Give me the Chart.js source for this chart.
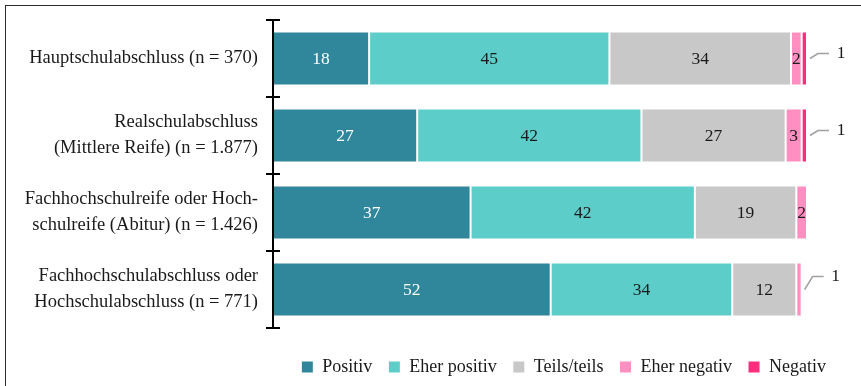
<!DOCTYPE html>
<html><head><meta charset="utf-8">
<script src="https://cdn.jsdelivr.net/npm/chart.js@4/dist/chart.umd.min.js"></script>
<style>
html,body{margin:0;padding:0;background:#fff;}
#wrap{position:relative;width:861px;height:386px;overflow:hidden;}
#frame{position:absolute;left:5px;top:5px;right:-5px;bottom:-5px;border-top:1.5px solid #2a2a2a;border-left:1.5px solid #2a2a2a;}
canvas{position:absolute;left:0;top:0;}
</style></head><body>
<div id="wrap"><div id="frame"></div><canvas id="c" width="861" height="386"></canvas></div>
<script>
const categories = [
  'Hauptschulabschluss (n = 370)',
  ['Realschulabschluss', '(Mittlere Reife) (n = 1.877)'],
  ['Fachhochschulreife oder Hoch-', 'schulreife (Abitur) (n = 1.426)'],
  ['Fachhochschulabschluss oder', 'Hochschulabschluss (n = 771)']
];
const seriesNames = ['Positiv', 'Eher positiv', 'Teils/teils', 'Eher negativ', 'Negativ'];
const positiv     = [18, 27, 37, 52];
const eherPositiv = [45, 42, 42, 34];
const teilsTeils  = [34, 27, 19, 12];
const eherNegativ = [2, 3, 2, 1];
const negativ     = [1, 1, 0, 0];

const seriesValues = [positiv, eherPositiv, teilsTeils, eherNegativ, negativ];
const seriesColors = ['#30869b', '#5ccdc8', '#c8c8c8', '#ff8fc0', '#ff2d7d'];
const FONT = "'Liberation Serif', 'Times New Roman', serif";
const TEXT = '#1a1a1a';

const datasets = seriesValues.map((vals, i) => ({
  label: seriesNames[i],
  data: vals,
  backgroundColor: seriesColors[i],
  borderColor: '#ffffff',
  borderWidth: 1,
  borderSkipped: false,
  barPercentage: 0.7,
  categoryPercentage: 1.0
}));

const axisPlugin = {
  id: 'axisPlugin',
  afterDraw(chart) {
    const ys = chart.scales.y;
    const ca = chart.chartArea;
    const ctx = chart.ctx;
    const n = categories.length;
    const x = ca.left;
    ctx.save();
    ctx.strokeStyle = '#000';
    ctx.lineWidth = 2;
    ctx.beginPath();
    ctx.moveTo(x, ca.top);
    ctx.lineTo(x, ca.bottom);
    for (let i = 0; i <= n; i++) {
      const yy = ys.getPixelForValue(i - 0.5);
      ctx.moveTo(x - 7, yy);
      ctx.lineTo(x + 7, yy);
    }
    ctx.stroke();
    ctx.restore();
  }
};

const labelPlugin = {
  id: 'labelPlugin',
  afterDatasetsDraw(chart) {
    const ctx = chart.ctx;
    ctx.save();
    ctx.font = '17.5px ' + FONT;
    ctx.textBaseline = 'middle';
    chart.data.datasets.forEach((ds, di) => {
      const meta = chart.getDatasetMeta(di);
      meta.data.forEach((bar, j) => {
        const v = ds.data[j];
        if (!v) return;
        const p = bar.getProps(['x', 'y', 'base'], true);
        if (v >= 2) {
          ctx.textAlign = 'center';
          ctx.fillStyle = di === 0 ? '#ffffff' : TEXT;
          ctx.fillText(String(v), (p.x + p.base) / 2, p.y + 1);
        } else {
          const x0 = p.x + 3;
          const yl = p.y - (di === 4 ? 5 : 13);
          ctx.strokeStyle = '#a0a0a0';
          ctx.lineWidth = 1.5;
          ctx.beginPath();
          ctx.moveTo(x0, p.y);
          ctx.lineTo(x0 + 8, yl);
          ctx.lineTo(x0 + 19, yl);
          ctx.stroke();
          ctx.textAlign = 'center';
          ctx.fillStyle = TEXT;
          ctx.fillText(String(v), x0 + 31, yl);
        }
      });
    });
    ctx.restore();
  }
};

new Chart(document.getElementById('c'), {
  type: 'bar',
  data: { labels: categories, datasets },
  options: {
    indexAxis: 'y',
    responsive: false,
    animation: false,
    layout: { padding: { left: 0, right: 19, top: 20, bottom: 0 } },
    scales: {
      x: {
        stacked: true, min: 0, max: 100,
        display: true,
        ticks: { display: false },
        grid: { display: false },
        border: { display: false },
        afterFit(s) { s.height = 14; s.paddingLeft = 0; s.paddingRight = 0; }
      },
      y: {
        stacked: true,
        ticks: { color: TEXT, font: { family: FONT, size: 18.5, lineHeight: 1.42 }, padding: 15, autoSkip: false },
        grid: { display: false, drawTicks: false },
        border: { display: false },
        afterFit(s) { s.width = 273; s.paddingTop = 0; s.paddingBottom = 0; }
      },
      y2: {
        type: 'linear', position: 'right', display: true,
        ticks: { display: false },
        grid: { display: false },
        border: { display: false },
        afterFit(s) { s.width = 35; s.paddingTop = 0; s.paddingBottom = 0; }
      }
    },
    plugins: {
      legend: {
        position: 'bottom',
        align: 'end',
        maxHeight: 44,
        labels: {
          boxWidth: 12, boxHeight: 12, padding: 16,
          color: TEXT, font: { family: FONT, size: 18 }
        }
      },
      tooltip: { enabled: false }
    }
  },
  plugins: [axisPlugin, labelPlugin]
});
</script>
</body></html>
